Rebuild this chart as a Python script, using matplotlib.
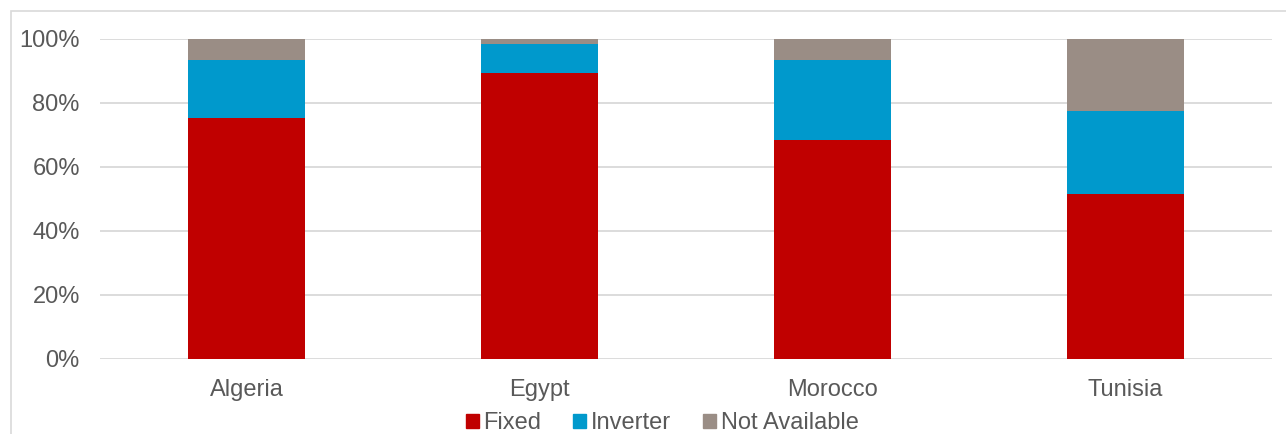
import matplotlib.pyplot as plt
from matplotlib.patches import Rectangle
from matplotlib.ticker import PercentFormatter

# values (percent of total)
countries = ['Algeria', 'Egypt', 'Morocco', 'Tunisia']
fixed = [75.3, 89.2, 68.3, 51.6]
inverter = [17.9, 9.0, 25.0, 25.9]
not_available = [6.8, 1.8, 6.7, 22.5]

series = ['Fixed', 'Inverter', 'Not Available']
colors = ['#C00000', '#0099CC', '#9A8D85']

plt.rcParams['font.family'] = ['Liberation Sans', 'DejaVu Sans']
txt = '#595959'

W, H = 1286, 434
fig = plt.figure(figsize=(W / 100, H / 100), dpi=100)
ax = fig.add_axes([100 / W, (H - 358.7) / H, 1172 / W, 320 / H])

# chart frame, opens off the right and bottom edges
fig.patches.append(Rectangle((11 / W, -0.1), 1.2, (H - 11) / H + 0.1,
                             transform=fig.transFigure, fill=False,
                             edgecolor='#D9D9D9', linewidth=1.2))

x = range(len(countries))
bottom = [0] * len(countries)
for name, vals, c in zip(series, [fixed, inverter, not_available], colors):
    ax.bar(x, vals, width=0.4, bottom=bottom, color=c, label=name, zorder=3)
    bottom = [b + v for b, v in zip(bottom, vals)]

ax.set_xlim(-0.5, 3.5)
ax.set_ylim(0, 100)
ax.set_yticks(range(0, 101, 20))
ax.yaxis.set_major_formatter(PercentFormatter(decimals=0))
ax.set_xticks(list(x))
ax.set_xticklabels(countries)
ax.grid(axis='y', color='#D9D9D9', linewidth=1.3, zorder=0)
for s in ax.spines.values():
    s.set_visible(False)
ax.tick_params(axis='y', length=0, pad=14.5, labelsize=17, labelcolor=txt)
ax.tick_params(axis='x', length=0, pad=14.5, labelsize=17, labelcolor=txt)

handles = [Rectangle((0, 0), 1, 1, color=c) for c in colors]
fig.legend(handles, series, loc='center', bbox_to_anchor=(662 / W, (H - 423) / H),
           ncol=3, frameon=False, fontsize=17, labelcolor=txt,
           handlelength=0.55, handleheight=0.55, handletextpad=0.2,
           columnspacing=1.35, borderpad=0, borderaxespad=0)

fig.savefig('out.png', dpi=100)
